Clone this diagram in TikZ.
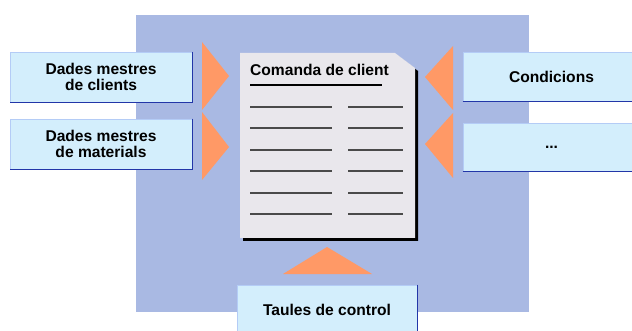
\documentclass[tikz,border=0pt]{standalone}
\usepackage{fontspec}
\setmainfont{Liberation Sans}
\usetikzlibrary{positioning}
\definecolor{panel}{HTML}{A9B9E3}
\definecolor{boxfill}{HTML}{D3EEFC}
\definecolor{boxline}{HTML}{2236A8}
\definecolor{boxlight}{HTML}{B4CCF6}
\definecolor{wedge}{HTML}{FF9966}
\definecolor{paper}{HTML}{E9E7EC}
\definecolor{rule}{HTML}{4A4A4A}

\begin{document}
\begin{tikzpicture}[
            x=1pt, y=-1pt,
            databox/.style={rectangle, draw=boxlight, fill=boxfill, line width=0.8pt,
                inner sep=0pt, minimum height=50pt, align=center,
                font=\fontsize{15.6}{16.5}\selectfont\bfseries},
            darkedge/.style={draw=boxline, line width=1.2pt},
            rowline/.style={draw=rule, line width=1.2pt},
        ]
            \useasboundingbox (0,0) rectangle (632,331);
            % panel behind everything
            \fill[panel] (136,15) rectangle (529,312);

            % input boxes
            \node[databox, minimum width=182pt] (clients) at (101,77) {Dades mestres\\de clients};
            \node[databox, minimum width=182pt] (materials) at (101,144) {Dades mestres\\de materials};
            \node[databox, minimum width=177pt, minimum height=49pt] (conditions) at (551.5,76.5) {Condicions};
            \node[databox, minimum width=177pt, minimum height=48pt] (others) at (551.5,147) {...};
            \node[databox, minimum width=180pt] (tables) at (327,310) {Taules de control};

            \draw[darkedge] (clients.north east) -- (clients.south east) -- (clients.south west);
            \draw[darkedge] (materials.north east) -- (materials.south east) -- (materials.south west);
            \draw[darkedge] (conditions.south west) -- (conditions.south east);
            \draw[darkedge] (others.south west) -- (others.south east);
            \draw[darkedge] (tables.north east) -- (tables.south east);

            % wedges pointing at the order
            \fill[wedge] (202,42) -- (229,76) -- (202,110) -- cycle;
            \fill[wedge] (202,112) -- (229,147) -- (202,180) -- cycle;
            \fill[wedge] (453,46) -- (425,77) -- (453,110) -- cycle;
            \fill[wedge] (453,113) -- (425,144) -- (453,178) -- cycle;
            \fill[wedge] (283,274) -- (327,247) -- (372,274) -- cycle;

            % the order sheet
            \fill[black] (243,56) -- (398,56) -- (418,71) -- (418,241) -- (243,241) -- cycle;
            \fill[paper] (240,53) -- (395,53) -- (415,68) -- (415,238) -- (240,238) -- cycle;
            \node[anchor=base west, inner sep=0pt, font=\fontsize{15.6}{17}\selectfont\bfseries] (title) at (250,76) {Comanda de client};
            \draw[black, line width=1.3pt] (title.south west |- 0,85) -- (382,85);

            \draw[rowline] (250,107) -- (332,107);
            \draw[rowline] (348,107) -- (403,107);
            \draw[rowline] (250,128) -- (332,128);
            \draw[rowline] (348,128) -- (403,128);
            \draw[rowline] (250,150) -- (332,150);
            \draw[rowline] (348,150) -- (403,150);
            \draw[rowline] (250,171) -- (332,171);
            \draw[rowline] (348,171) -- (403,171);
            \draw[rowline] (250,193) -- (332,193);
            \draw[rowline] (348,193) -- (403,193);
            \draw[rowline] (250,214) -- (332,214);
            \draw[rowline] (348,214) -- (403,214);
        \end{tikzpicture}
\end{document}
